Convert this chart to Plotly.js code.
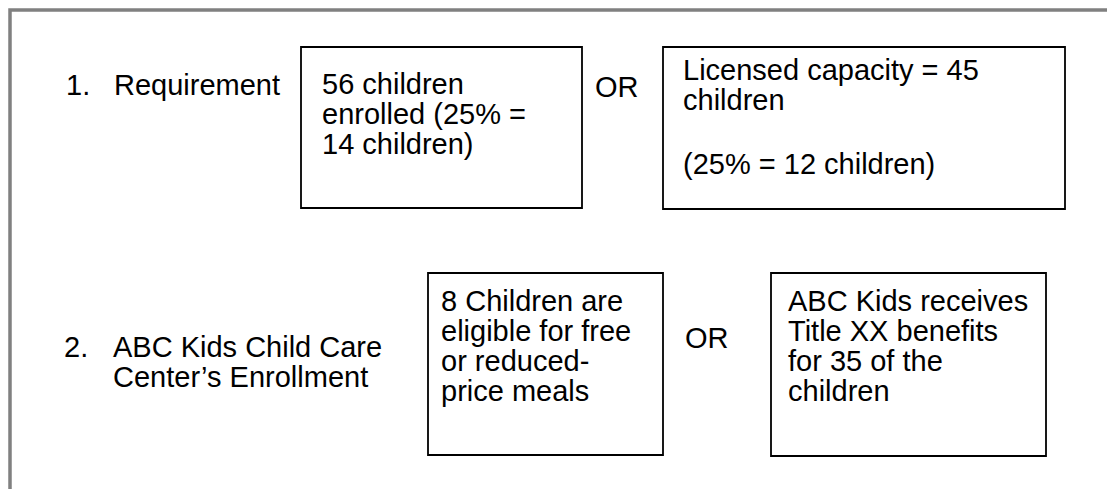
<!DOCTYPE html>
<html>
<head>
<meta charset="utf-8">
<script src="https://cdn.plot.ly/plotly-3.0.1.min.js"></script>
<style>
  html, body { margin: 0; padding: 0; background: #ffffff; }
  #chart { width: 1107px; height: 489px; }
</style>
</head>
<body>
<div id="chart"></div>
<script>
// ---- content ----
const stepNumbers = ["1.", "2."];
const stepLabels = [
  ["Requirement"],
  ["ABC Kids Child Care", "Center\u2019s Enrollment"]
];
const connectorText = "OR";
const box1Lines = ["56 children", "enrolled (25% =", "14 children)"];
const box2Lines = ["Licensed capacity = 45", "children", "(25% = 12 children)"];
const box3Lines = ["8 Children are", "eligible for free", "or reduced-", "price meals"];
const box4Lines = ["ABC Kids receives", "Title XX benefits", "for 35 of the", "children"];

// ---- layout geometry (pixel space) ----
const W = 1107, H = 489;
const FONT = { family: "Liberation Sans, Arial, sans-serif", size: 29, color: "#000000" };

const boxes = [
  { x0: 301, x1: 582, y0: 47, y1: 208, lines: box1Lines, tx: 321, ty: [84, 114, 144] },
  { x0: 663, x1: 1065, y0: 47, y1: 209, lines: box2Lines, tx: 682, ty: [70, 100, 164] },
  { x0: 428, x1: 663, y0: 273, y1: 455, lines: box3Lines, tx: 440, ty: [301, 331, 361, 391] },
  { x0: 771, x1: 1046, y0: 273, y1: 456, lines: box4Lines, tx: 787, ty: [301, 331, 361, 391] }
];
const steps = [
  { numX: 65, textX: 113, ty: [85] },
  { numX: 63, textX: 112, ty: [347, 377] }
];
const connectors = [ { x: 594, y: 87 }, { x: 684, y: 338 } ];

const shapes = [];
const annotations = [];

// outer grey frame (continues past the right and bottom edges)
shapes.push({
  type: "path", xref: "x", yref: "y",
  path: `M10,${H + 5} L10,10 L${W + 5},10`,
  line: { color: "#808080", width: 3.5 }
});

function addText(x, y, text) {
  annotations.push({
    x: x, y: y, xref: "x", yref: "y", xanchor: "left", yanchor: "middle",
    text: text, showarrow: false, font: FONT, borderpad: 0
  });
}

boxes.forEach(b => {
  shapes.push({
    type: "rect", xref: "x", yref: "y",
    x0: b.x0, x1: b.x1, y0: b.y0, y1: b.y1,
    line: { color: "#000000", width: 1.8 }, fillcolor: "rgba(0,0,0,0)"
  });
  b.lines.forEach((t, i) => addText(b.tx, b.ty[i], t));
});

steps.forEach((s, i) => {
  addText(s.numX, s.ty[0], stepNumbers[i]);
  stepLabels[i].forEach((t, j) => addText(s.textX, s.ty[j], t));
});

connectors.forEach(c => addText(c.x, c.y, connectorText));

const layout = {
  width: W, height: H,
  margin: { l: 0, r: 0, t: 0, b: 0 },
  paper_bgcolor: "#ffffff", plot_bgcolor: "#ffffff",
  xaxis: { range: [0, W], visible: false, fixedrange: true },
  yaxis: { range: [H, 0], visible: false, fixedrange: true },
  shapes: shapes,
  annotations: annotations,
  showlegend: false
};

Plotly.newPlot("chart", [], layout, { staticPlot: true, displayModeBar: false });
</script>
</body>
</html>
